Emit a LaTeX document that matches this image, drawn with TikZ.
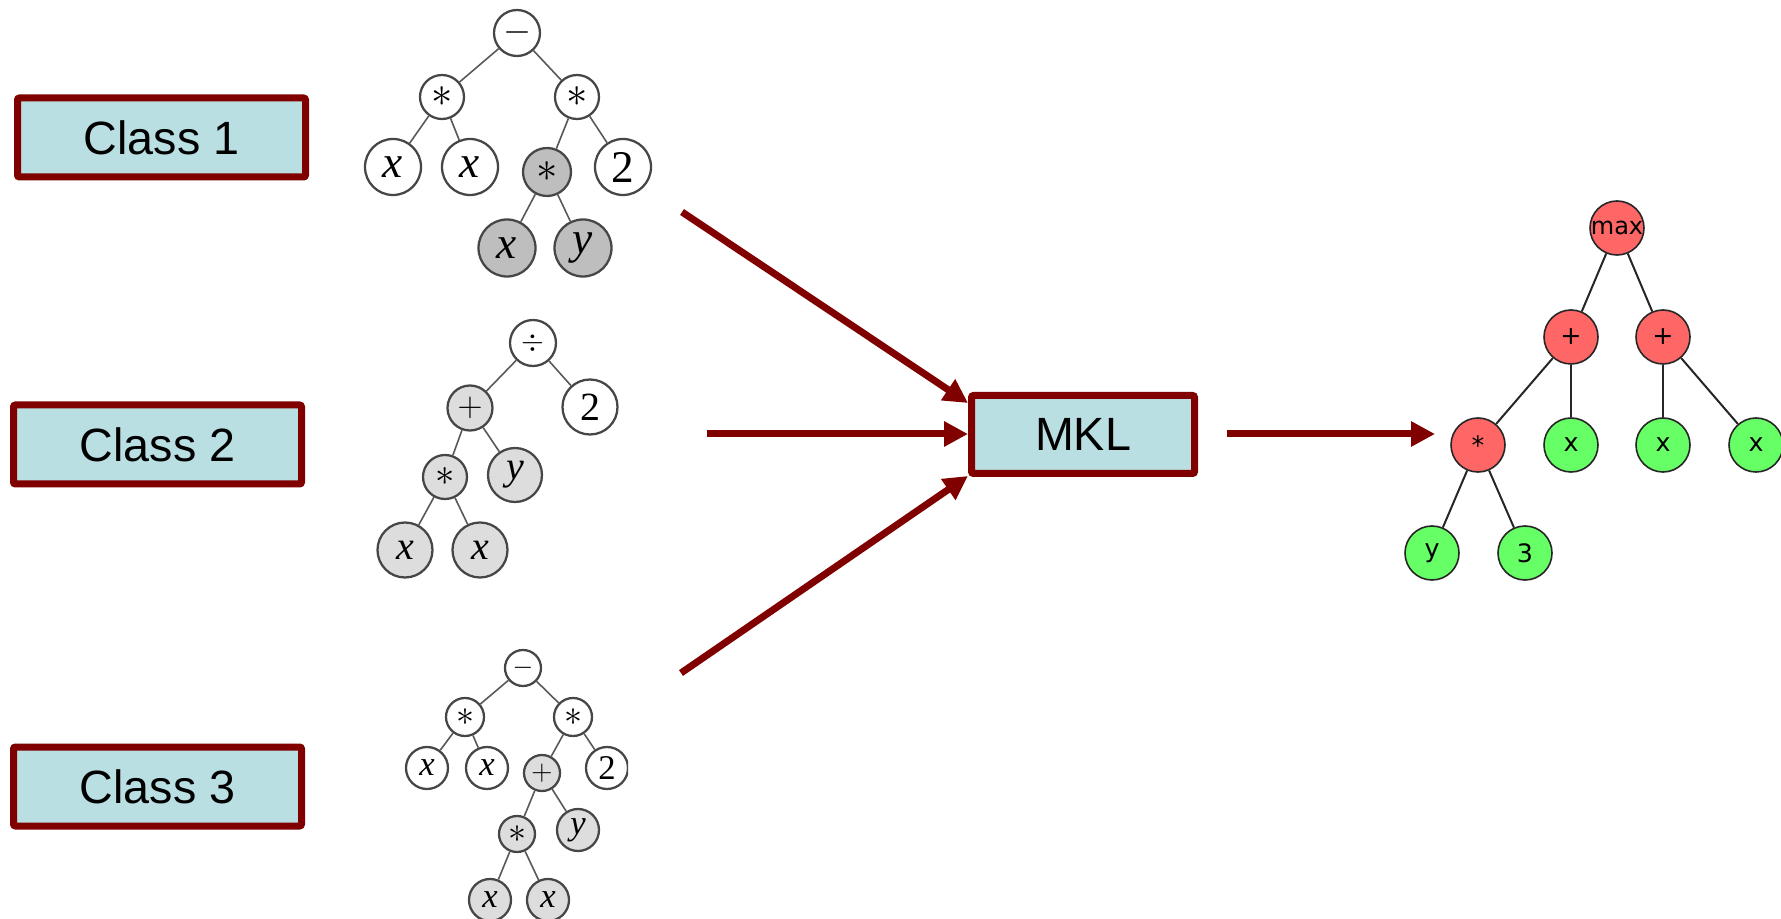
\documentclass[tikz,border=0pt]{standalone}
\usepackage{fix-cm}
\usepackage{fontspec}
\setmainfont{Liberation Sans}
\newfontfamily\tms{Liberation Serif}
\newfontfamily\dvs{DejaVu Sans}
\usetikzlibrary{arrows.meta}
\definecolor{darkred}{RGB}{128,0,0}
\definecolor{boxfill}{RGB}{185,223,227}
\definecolor{gpred}{RGB}{255,102,102}
\definecolor{gpgreen}{RGB}{102,255,102}
\definecolor{dgrey}{RGB}{190,190,190}
\definecolor{lgrey}{RGB}{221,221,221}
\definecolor{tline}{RGB}{70,70,70}
\begin{document}
\begin{tikzpicture}[x=0.75pt,y=-0.75pt,
  classbox/.style={draw=darkred, line width=5.25pt, fill=boxfill, rounded corners=1.5pt,
    minimum width=216pt, minimum height=59.25pt, inner sep=0pt,
    font=\fontsize{35}{40}\selectfont},
  flow/.style={draw=darkred, line width=5.25pt, -{Triangle[length=18pt,width=18pt]}},
  tn/.style={circle, draw=tline, line width=1.7pt, fill=white, inner sep=0pt, minimum size=#1},
  tg/.style={tn=#1, fill=dgrey},
  tl/.style={tn=#1, fill=lgrey},
  tedge/.style={draw=tline!90, line width=1.2pt},
  gn/.style={circle, draw=black!85, line width=1.2pt, inner sep=0pt, minimum size=40.5pt,
    font=\dvs\fontsize{19}{22}\selectfont},
  gred/.style={gn, fill=gpred},
  ggreen/.style={gn, fill=gpgreen},
  gedge/.style={draw=black!85, line width=1.5pt},
  ta/.style={font=\tms\itshape\fontsize{34}{36}\selectfont},
  tb/.style={font=\tms\itshape\fontsize{30}{32}\selectfont},
  tc/.style={font=\tms\itshape\fontsize{26}{28}\selectfont}
]
\useasboundingbox (0,0) rectangle (1781,919);

% class boxes
\node[classbox] (c1) at (161.5,137.5) {Class 1};
\node[classbox] (c2) at (157.5,444.5) {Class 2};
\node[classbox] (c3) at (157.5,786.5) {Class 3};
\node[classbox, minimum width=167.25pt, minimum height=58.5pt] (mkl) at (1083,434.5) {MKL};

% tree 1
\begin{scope}[ta]
\node[tn=34.5pt] (a0) at (517,33) {\fontsize{27}{28}\selectfont$-$};
\node[tn=33pt] (a1) at (442,97) {\fontsize{32}{34}\selectfont$\ast$};
\node[tn=33pt] (a2) at (577,97) {\fontsize{32}{34}\selectfont$\ast$};
\node[tn=42pt] (a3) at (393,167) {x};
\node[tn=42pt] (a4) at (470,167) {x};
\node[tg=36pt] (a5) at (547,172) {\fontsize{32}{34}\selectfont$\ast$};
\node[tn=42pt] (a6) at (623,167) {\upshape 2};
\node[tg=42.75pt] (a7) at (507,248) {x};
\node[tg=42.75pt] (a8) at (583,248) {y};
\end{scope}
\draw[tedge] (a0) -- (a1);
\draw[tedge] (a0) -- (a2);
\draw[tedge] (a1) -- (a3);
\draw[tedge] (a1) -- (a4);
\draw[tedge] (a2) -- (a5);
\draw[tedge] (a2) -- (a6);
\draw[tedge] (a5) -- (a7);
\draw[tedge] (a5) -- (a8);

% tree 2
\begin{scope}[tb]
\node[tn=34.5pt] (b0) at (533,343) {\fontsize{22}{24}\selectfont$\div$};
\node[tl=33.75pt] (b1) at (470,408) {\fontsize{26}{28}\selectfont$+$};
\node[tn=41.25pt] (b2) at (590,407) {\upshape 2};
\node[tl=33pt] (b3) at (445,477) {\fontsize{29}{30}\selectfont$\ast$};
\node[tl=40.5pt] (b4) at (515,475) {y};
\node[tl=41.25pt] (b5) at (405,550) {x};
\node[tl=41.25pt] (b6) at (480,550) {x};
\end{scope}
\draw[tedge] (b0) -- (b1);
\draw[tedge] (b0) -- (b2);
\draw[tedge] (b1) -- (b3);
\draw[tedge] (b1) -- (b4);
\draw[tedge] (b3) -- (b5);
\draw[tedge] (b3) -- (b6);

% tree 3
\begin{scope}
\clip (300,600) rectangle (628,919);
\begin{scope}[tc]
\node[tn=27pt] (d0) at (523,668) {\fontsize{20}{22}\selectfont$-$};
\node[tn=28.5pt] (d1) at (465,717) {\fontsize{27}{28}\selectfont$\ast$};
\node[tn=28.5pt] (d2) at (573,717) {\fontsize{27}{28}\selectfont$\ast$};
\node[tn=31.5pt] (d3) at (427,768) {x};
\node[tn=31.5pt] (d4) at (487,768) {x};
\node[tl=27pt] (d5) at (542,773) {\fontsize{22}{24}\selectfont$+$};
\node[tn=31.5pt] (d6) at (607,768) {\upshape 2};
\node[tl=27pt] (d7) at (517,834) {\fontsize{27}{28}\selectfont$\ast$};
\node[tl=31.5pt] (d8) at (578,830) {y};
\node[tl=31.5pt] (d9) at (490,900) {x};
\node[tl=31.5pt] (d10) at (548,900) {x};
\end{scope}
\draw[tedge] (d0) -- (d1);
\draw[tedge] (d0) -- (d2);
\draw[tedge] (d1) -- (d3);
\draw[tedge] (d1) -- (d4);
\draw[tedge] (d2) -- (d5);
\draw[tedge] (d2) -- (d6);
\draw[tedge] (d5) -- (d7);
\draw[tedge] (d5) -- (d8);
\draw[tedge] (d7) -- (d9);
\draw[tedge] (d7) -- (d10);
\end{scope}

% right GP tree
\node[gred] (g0) at (1617,228) {\fontsize{18}{20}\selectfont max};
\node[gred] (g1) at (1571,337) {+};
\node[gred] (g2) at (1663,337) {+};
\node[gred] (g3) at (1478,445) {*};
\node[ggreen] (g4) at (1571,445) {x};
\node[ggreen] (g5) at (1663,445) {x};
\node[ggreen] (g6) at (1756,445) {x};
\node[ggreen] (g7) at (1432,553) {y};
\node[ggreen] (g8) at (1525,553) {3};
\draw[gedge] (g0) -- (g1);
\draw[gedge] (g0) -- (g2);
\draw[gedge] (g1) -- (g3);
\draw[gedge] (g1) -- (g4);
\draw[gedge] (g2) -- (g5);
\draw[gedge] (g2) -- (g6);
\draw[gedge] (g3) -- (g7);
\draw[gedge] (g3) -- (g8);

% arrows
\coordinate (s1) at (682,212);
\coordinate (s2) at (707,434);
\coordinate (s3) at (681,673);
\coordinate (s4) at (1227,434);
\coordinate (e4) at (1435,434);
\draw[flow] (s1) -- (mkl.north west |- 0,403);
\draw[flow] (s2) -- (mkl.west |- s2);
\draw[flow] (s3) -- (mkl.south west |- 0,476);
\draw[flow] (s4) -- (e4);
\end{tikzpicture}
\end{document}
